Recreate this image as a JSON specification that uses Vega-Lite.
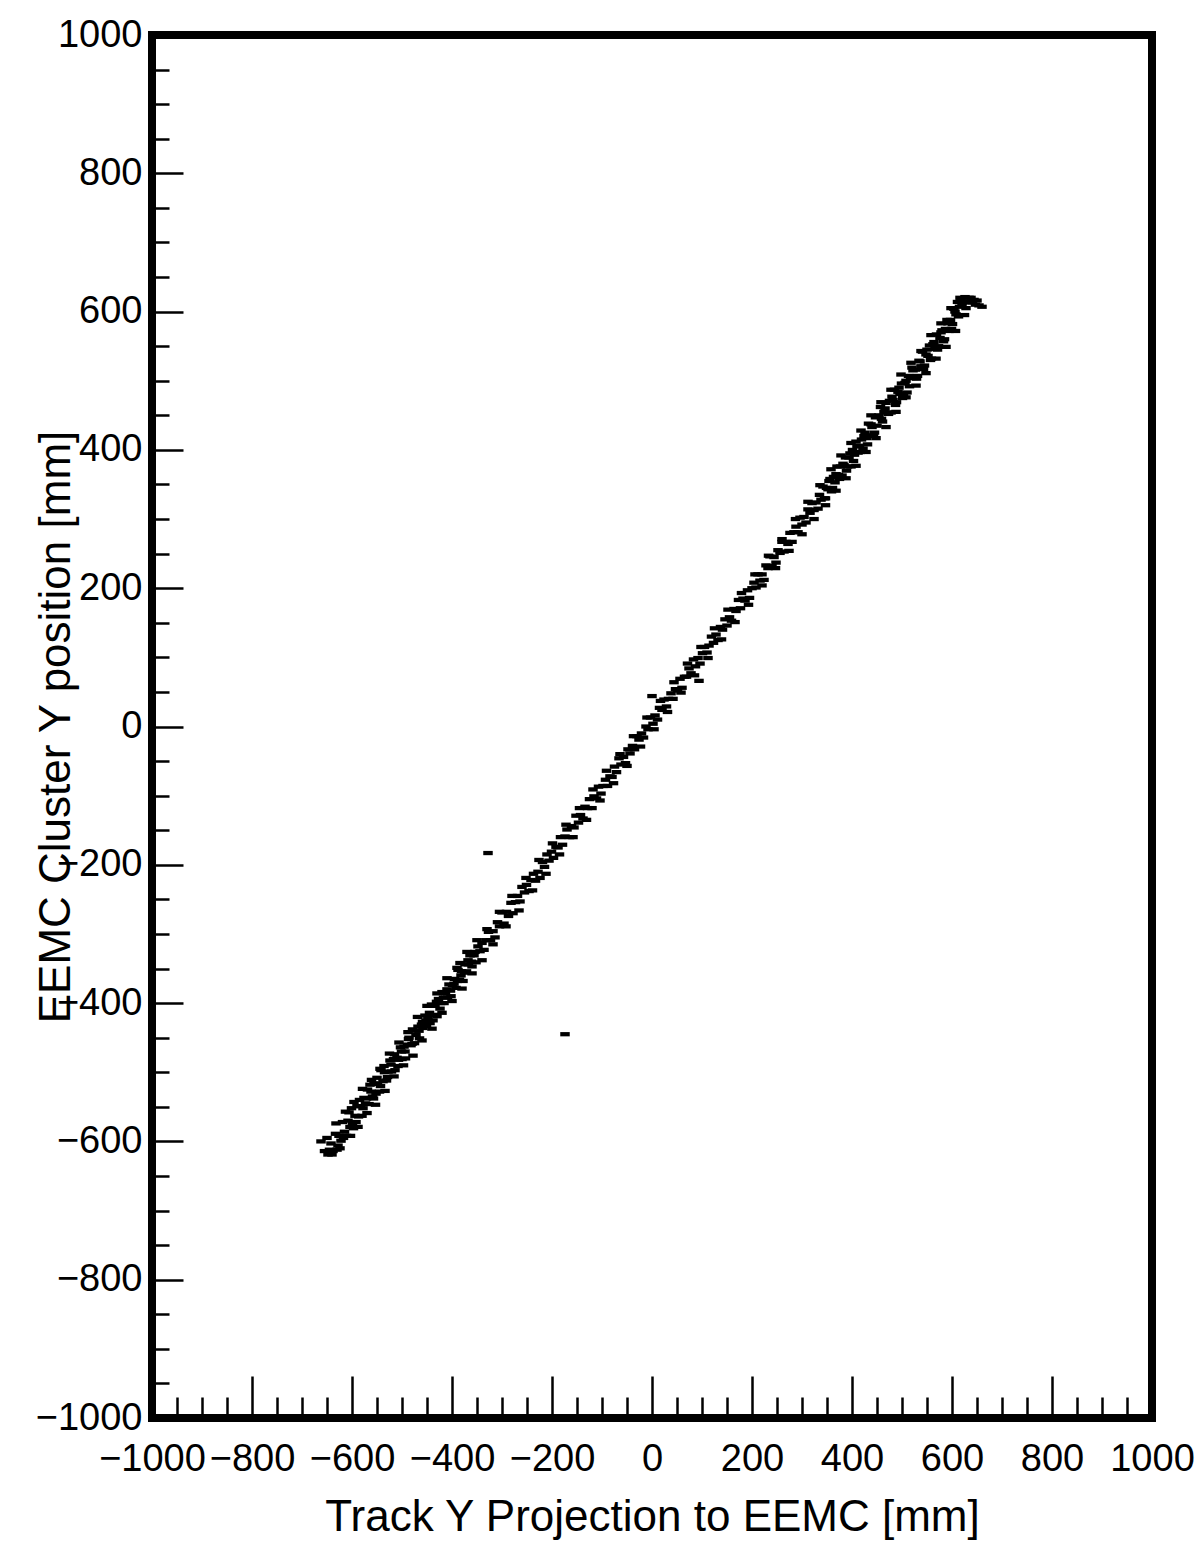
{
  "$schema": "https://vega.github.io/schema/vega-lite/v6.json",
  "width": 1000,
  "height": 1383,
  "autosize": {"type": "none"},
  "padding": {"left": 152, "top": 35, "right": 52, "bottom": 127},
  "background": "white",
  "config": {
    "view": {"stroke": "black", "strokeWidth": 8},
    "font": "Liberation Sans"
  },
  "layer": [
    {
      "data": {"values": [
        {"x":-662,"y":-600},{"x":-655,"y":-614},{"x":-648,"y":-619},{"x":-642,"y":-603},{"x":-638,"y":-614},{"x":-633,"y":-589},{"x":-630,"y":-612},{"x":-626,"y":-592},{"x":-622,"y":-599},{"x":-619,"y":-572},{"x":-615,"y":-586},{"x":-611,"y":-592},{"x":-608,"y":-570},{"x":-604,"y":-579},{"x":-601,"y":-552},{"x":-597,"y":-581},{"x":-594,"y":-563},{"x":-590,"y":-549},{"x":-587,"y":-564},{"x":-583,"y":-549},{"x":-580,"y":-563},{"x":-576,"y":-537},{"x":-573,"y":-545},{"x":-569,"y":-525},{"x":-566,"y":-546},{"x":-562,"y":-528},{"x":-559,"y":-535},
        {"x":-556,"y":-516},{"x":-552,"y":-531},{"x":-549,"y":-517},{"x":-545,"y":-528},{"x":-542,"y":-497},{"x":-538,"y":-513},{"x":-535,"y":-500},{"x":-531,"y":-512},{"x":-528,"y":-499},{"x":-524,"y":-483},{"x":-521,"y":-499},{"x":-517,"y":-481},{"x":-514,"y":-497},{"x":-510,"y":-479},{"x":-507,"y":-482},{"x":-503,"y":-464},{"x":-500,"y":-481},{"x":-496,"y":-463},{"x":-493,"y":-480},{"x":-489,"y":-460},{"x":-486,"y":-450},{"x":-482,"y":-461},{"x":-479,"y":-438},{"x":-475,"y":-458},{"x":-472,"y":-446},{"x":-468,"y":-434},{"x":-465,"y":-451},{"x":-461,"y":-431},{"x":-458,"y":-436},{"x":-454,"y":-418},{"x":-451,"y":-433},
        {"x":-448,"y":-420},{"x":-444,"y":-429},{"x":-441,"y":-402},{"x":-437,"y":-417},{"x":-434,"y":-404},{"x":-430,"y":-419},{"x":-427,"y":-394},{"x":-423,"y":-400},{"x":-420,"y":-384},{"x":-416,"y":-400},{"x":-413,"y":-386},{"x":-409,"y":-392},{"x":-406,"y":-373},{"x":-402,"y":-390},{"x":-399,"y":-374},{"x":-395,"y":-365},{"x":-392,"y":-378},{"x":-388,"y":-352},{"x":-385,"y":-366},{"x":-381,"y":-354},{"x":-378,"y":-368},{"x":-374,"y":-344},{"x":-371,"y":-354},{"x":-367,"y":-344},{"x":-364,"y":-331},{"x":-360,"y":-347},{"x":-356,"y":-331},{"x":-352,"y":-341},{"x":-348,"y":-318},{"x":-344,"y":-325},{"x":-340,"y":-313},{"x":-336,"y":-323},{"x":-332,"y":-309},
        {"x":-327,"y":-297},{"x":-323,"y":-309},{"x":-318,"y":-296},{"x":-314,"y":-305},{"x":-309,"y":-283},{"x":-305,"y":-289},{"x":-300,"y":-269},{"x":-296,"y":-285},{"x":-291,"y":-268},{"x":-287,"y":-274},{"x":-282,"y":-255},{"x":-278,"y":-270},{"x":-273,"y":-254},{"x":-269,"y":-245},{"x":-264,"y":-253},{"x":-260,"y":-232},{"x":-255,"y":-240},{"x":-251,"y":-229},{"x":-246,"y":-238},{"x":-242,"y":-222},{"x":-237,"y":-213},{"x":-233,"y":-223},{"x":-228,"y":-210},{"x":-224,"y":-219},{"x":-219,"y":-196},{"x":-215,"y":-203},{"x":-210,"y":-185},{"x":-206,"y":-194},{"x":-201,"y":-181},
        {"x":-197,"y":-190},{"x":-192,"y":-174},{"x":-188,"y":-175},{"x":-183,"y":-160},{"x":-179,"y":-171},{"x":-174,"y":-159},{"x":-170,"y":-149},{"x":-165,"y":-160},{"x":-161,"y":-144},{"x":-156,"y":-146},{"x":-152,"y":-129},{"x":-147,"y":-139},{"x":-143,"y":-128},{"x":-138,"y":-133},{"x":-134,"y":-116},{"x":-129,"y":-118},{"x":-125,"y":-105},{"x":-120,"y":-118},{"x":-116,"y":-101},{"x":-111,"y":-104},{"x":-107,"y":-87},{"x":-102,"y":-97},{"x":-98,"y":-86},{"x":-93,"y":-77},{"x":-89,"y":-86},{"x":-84,"y":-72},{"x":-80,"y":-73},{"x":-75,"y":-58},{"x":-71,"y":-66},{"x":-66,"y":-46},{"x":-62,"y":-55},{"x":-57,"y":-44},{"x":-53,"y":-53},{"x":-48,"y":-33},{"x":-44,"y":-39},{"x":-39,"y":-28},{"x":-35,"y":-33},{"x":-30,"y":-14},{"x":-26,"y":-19},{"x":-21,"y":-10},{"x":-17,"y":-16},{"x":-12,"y":0},{"x":-8,"y":-4},{"x":-3,"y":13},
        {"x":2,"y":4},{"x":6,"y":16},{"x":11,"y":10},{"x":15,"y":27},{"x":20,"y":24},{"x":24,"y":39},{"x":29,"y":29},{"x":33,"y":40},{"x":38,"y":48},{"x":42,"y":40},{"x":47,"y":54},{"x":51,"y":52},{"x":56,"y":69},{"x":60,"y":56},{"x":65,"y":72},{"x":69,"y":72},{"x":74,"y":84},{"x":78,"y":77},{"x":83,"y":97},{"x":87,"y":87},{"x":92,"y":99},{"x":96,"y":91},{"x":101,"y":106},{"x":105,"y":115},{"x":110,"y":107},{"x":114,"y":117},{"x":119,"y":130},{"x":123,"y":121},{"x":128,"y":133},{"x":132,"y":125},{"x":137,"y":144},{"x":141,"y":140},{"x":146,"y":155},{"x":150,"y":146},{"x":155,"y":158},{"x":159,"y":153},{"x":164,"y":170},{"x":168,"y":167},{"x":173,"y":183},{"x":177,"y":171},{"x":182,"y":185},{"x":186,"y":182},{"x":191,"y":197},{"x":195,"y":186},{"x":200,"y":200},
        {"x":204,"y":208},{"x":208,"y":201},{"x":212,"y":220},{"x":216,"y":211},{"x":220,"y":220},{"x":224,"y":212},{"x":228,"y":233},{"x":232,"y":229},{"x":236,"y":246},{"x":240,"y":232},{"x":244,"y":245},{"x":248,"y":237},{"x":252,"y":255},{"x":256,"y":251},{"x":260,"y":267},{"x":264,"y":253},{"x":268,"y":267},{"x":272,"y":264},{"x":276,"y":280},{"x":280,"y":267},{"x":284,"y":281},{"x":288,"y":289},{"x":292,"y":281},{"x":296,"y":302},{"x":300,"y":292},{"x":304,"y":303},{"x":308,"y":295},{"x":312,"y":314},{"x":316,"y":309},{"x":320,"y":323},{"x":324,"y":313},{"x":328,"y":324},{"x":332,"y":315},
        {"x":335,"y":335},{"x":338,"y":328},{"x":342,"y":347},{"x":345,"y":330},{"x":349,"y":345},{"x":352,"y":343},{"x":356,"y":358},{"x":359,"y":340},{"x":363,"y":361},{"x":366,"y":353},{"x":370,"y":376},{"x":373,"y":364},{"x":377,"y":376},{"x":380,"y":363},{"x":384,"y":378},{"x":387,"y":389},{"x":391,"y":376},{"x":394,"y":389},{"x":398,"y":376},{"x":401,"y":400},{"x":405,"y":393},{"x":408,"y":412},{"x":412,"y":396},{"x":415,"y":406},{"x":419,"y":415},{"x":422,"y":402},{"x":426,"y":425},{"x":429,"y":417},{"x":433,"y":438},{"x":436,"y":420},{"x":440,"y":433},{"x":443,"y":421},{"x":447,"y":447},{"x":450,"y":435},{"x":454,"y":450},{"x":457,"y":462},{"x":461,"y":441},
        {"x":464,"y":455},{"x":468,"y":468},{"x":471,"y":454},{"x":475,"y":471},{"x":478,"y":454},{"x":482,"y":472},{"x":485,"y":487},{"x":489,"y":469},{"x":492,"y":484},{"x":496,"y":481},{"x":499,"y":496},{"x":503,"y":481},{"x":506,"y":497},{"x":510,"y":483},{"x":513,"y":507},{"x":517,"y":504},{"x":520,"y":519},{"x":524,"y":504},{"x":527,"y":516},{"x":531,"y":507},{"x":534,"y":529},{"x":538,"y":521},{"x":541,"y":542},{"x":545,"y":522},{"x":548,"y":538},{"x":552,"y":536},{"x":555,"y":551},{"x":559,"y":532},{"x":562,"y":553},{"x":566,"y":546},{"x":569,"y":567},{"x":573,"y":550},{"x":576,"y":562},{"x":580,"y":573},{"x":583,"y":557},{"x":587,"y":575},{"x":590,"y":588},{"x":594,"y":572},{"x":597,"y":588},{"x":601,"y":582},{"x":604,"y":604},{"x":608,"y":596},{"x":611,"y":614},{"x":615,"y":607},{"x":618,"y":618},{"x":622,"y":613},{"x":626,"y":621},{"x":630,"y":614},{"x":635,"y":614},{"x":641,"y":613},{"x":647,"y":610},{"x":654,"y":609},{"x":660,"y":607},
        {"x":-328,"y":-183},{"x":-174,"y":-445},{"x":0,"y":44},{"x":94,"y":66},{"x":-384,"y":-342},
        {"x":-645,"y":-612},{"x":-628,"y":-606},{"x":-617,"y":-595},{"x":-606,"y":-558},{"x":-599,"y":-575},{"x":-592,"y":-572},{"x":-585,"y":-540},{"x":-578,"y":-552},{"x":-571,"y":-538},{"x":-564,"y":-518},{"x":-557,"y":-538},{"x":-550,"y":-508},{"x":-543,"y":-520},{"x":-536,"y":-491},{"x":-529,"y":-507},{"x":-522,"y":-489},{"x":-515,"y":-474},{"x":-508,"y":-491},{"x":-501,"y":-470},{"x":-494,"y":-470},{"x":-487,"y":-452},{"x":-480,"y":-459},{"x":-473,"y":-440},{"x":-466,"y":-440},{"x":-459,"y":-427},{"x":-452,"y":-425},{"x":-445,"y":-414},{"x":-438,"y":-425},{"x":-431,"y":-398},{"x":-424,"y":-408},{"x":-417,"y":-392},{"x":-410,"y":-380},{"x":-403,"y":-382},{"x":-396,"y":-372},{"x":-389,"y":-368},{"x":-382,"y":-360},{"x":-375,"y":-356},{"x":-368,"y":-338},{"x":-361,"y":-340},{"x":-354,"y":-326},
        {"x":347,"y":330},{"x":354,"y":355},{"x":361,"y":345},{"x":368,"y":365},{"x":375,"y":358},{"x":382,"y":380},{"x":389,"y":370},{"x":396,"y":395},{"x":403,"y":384},{"x":410,"y":405},{"x":417,"y":397},{"x":424,"y":420},{"x":431,"y":408},{"x":438,"y":437},{"x":445,"y":425},{"x":452,"y":448},{"x":459,"y":445},{"x":466,"y":460},{"x":473,"y":452},{"x":480,"y":477},{"x":487,"y":465},{"x":494,"y":490},{"x":501,"y":475},{"x":508,"y":500},{"x":515,"y":492},{"x":522,"y":515},{"x":529,"y":503},{"x":536,"y":528},{"x":543,"y":517},{"x":550,"y":545},{"x":557,"y":530},{"x":564,"y":556},{"x":571,"y":545},{"x":578,"y":570},{"x":585,"y":560},{"x":592,"y":583},{"x":599,"y":575},{"x":606,"y":600},{"x":613,"y":593},{"x":620,"y":610},{"x":628,"y":605},{"x":638,"y":620},{"x":650,"y":616},
        {"x":-650,"y":-595},{"x":-640,"y":-619},{"x":-632,"y":-574},{"x":-624,"y":-610},{"x":-613,"y":-557},{"x":-603,"y":-592},{"x":-596,"y":-543},{"x":-588,"y":-579},{"x":-579,"y":-524},{"x":-570,"y":-559},{"x":-561,"y":-511},{"x":-553,"y":-547},{"x":-544,"y":-495},{"x":-534,"y":-527},{"x":-525,"y":-473},{"x":-516,"y":-506},{"x":-506,"y":-457},{"x":-497,"y":-490},{"x":-488,"y":-442},{"x":-478,"y":-476},{"x":-469,"y":-420},{"x":-460,"y":-454},{"x":-450,"y":-404},{"x":-440,"y":-437},{"x":-430,"y":-386},{"x":-420,"y":-414},{"x":-410,"y":-364},{"x":-400,"y":-397},{"x":-390,"y":-349},{"x":-380,"y":-379},{"x":-370,"y":-326},{"x":-360,"y":-357},{"x":-350,"y":-309},{"x":-340,"y":-338},{"x":-330,"y":-293},{"x":-318,"y":-315},{"x":-305,"y":-268},{"x":-292,"y":-289},{"x":-280,"y":-245},{"x":-266,"y":-266},{"x":-252,"y":-219},{"x":-239,"y":-237},{"x":-226,"y":-193},{"x":-212,"y":-213},{"x":-199,"y":-169},{"x":-185,"y":-185},{"x":-172,"y":-142},{"x":-158,"y":-160},{"x":-145,"y":-118},{"x":-131,"y":-135},{"x":-118,"y":-91},{"x":-104,"y":-107},{"x":-91,"y":-64},{"x":-77,"y":-82},{"x":-64,"y":-40},{"x":-50,"y":-57},{"x":-37,"y":-14},{"x":-23,"y":-29},{"x":-10,"y":13},{"x":4,"y":-4},{"x":17,"y":37},{"x":31,"y":21},{"x":44,"y":64},{"x":58,"y":49},{"x":71,"y":91},{"x":85,"y":74},{"x":98,"y":115},{"x":112,"y":99},{"x":125,"y":142},{"x":139,"y":126},{"x":152,"y":169},{"x":166,"y":151},{"x":179,"y":193},{"x":193,"y":176},{"x":206,"y":220},{"x":220,"y":204},{"x":233,"y":247},{"x":247,"y":229},{"x":260,"y":271},{"x":274,"y":254},{"x":287,"y":300},{"x":300,"y":278},{"x":312,"y":325},{"x":324,"y":300},{"x":336,"y":349},{"x":347,"y":320},{"x":358,"y":372},{"x":368,"y":341},{"x":378,"y":392},{"x":388,"y":359},{"x":398,"y":410},{"x":408,"y":377},{"x":418,"y":428},{"x":428,"y":397},{"x":438,"y":450},{"x":448,"y":417},{"x":458,"y":469},{"x":468,"y":433},{"x":478,"y":487},{"x":488,"y":455},{"x":498,"y":509},{"x":508,"y":476},{"x":518,"y":526},{"x":528,"y":493},{"x":538,"y":543},{"x":548,"y":511},{"x":558,"y":566},{"x":568,"y":532},{"x":578,"y":583},{"x":588,"y":549},{"x":598,"y":605},{"x":607,"y":572},{"x":616,"y":620},{"x":625,"y":595},{"x":634,"y":620},{"x":644,"y":617}
      ]},
      "mark": {"type": "point", "shape": "M-1,-0.45L1,-0.45L1,0.45L-1,0.45Z", "filled": true, "size": 90, "color": "black", "opacity": 1, "strokeWidth": 0},
      "encoding": {
        "x": {
          "field": "x", "type": "quantitative",
          "scale": {"domain": [-1000, 1000], "nice": false, "zero": false},
          "axis": {
            "orient": "bottom",
            "values": [-1000, -800, -600, -400, -200, 0, 200, 400, 600, 800, 1000],
            "format": "d", "ticks": false, "domain": false, "grid": false,
            "labelFont": "Liberation Sans", "labelFontSize": 38, "labelColor": "black",
            "labelPadding": 22, "labelOverlap": false, "labelFlush": false, "labelBound": false,
            "title": "Track Y Projection to EEMC [mm]",
            "titleFont": "Liberation Sans", "titleFontSize": 44, "titleFontWeight": "normal", "titleColor": "black",
            "titleX": 500, "titleY": 112, "titleAlign": "center", "titleBaseline": "alphabetic"
          }
        },
        "y": {
          "field": "y", "type": "quantitative",
          "scale": {"domain": [-1000, 1000], "nice": false, "zero": false},
          "axis": {
            "orient": "left",
            "values": [-1000, -800, -600, -400, -200, 0, 200, 400, 600, 800, 1000],
            "format": "d", "ticks": false, "domain": false, "grid": false,
            "labelFont": "Liberation Sans", "labelFontSize": 38, "labelColor": "black",
            "labelPadding": 10, "labelOverlap": false, "labelFlush": false, "labelBound": false,
            "title": "EEMC Cluster Y position [mm]",
            "titleFont": "Liberation Sans", "titleFontSize": 44, "titleFontWeight": "normal", "titleColor": "black",
            "titleAngle": 270, "titleX": -83, "titleY": 691.5, "titleAlign": "center", "titleBaseline": "alphabetic"
          }
        }
      }
    },
    {
      "data": {"values": [{"x": 0, "y": 0}]},
      "mark": {"type": "point", "opacity": 0},
      "encoding": {
        "x": {
          "field": "x", "type": "quantitative",
          "axis": {
            "orient": "bottom",
            "values": [-1000, -800, -600, -400, -200, 0, 200, 400, 600, 800, 1000],
            "labels": false, "domain": false, "grid": false, "ticks": true,
            "tickSize": -42, "tickWidth": 2.5, "tickColor": "black", "title": null
          }
        },
        "y": {
          "field": "y", "type": "quantitative",
          "axis": {
            "orient": "left",
            "values": [-1000, -800, -600, -400, -200, 0, 200, 400, 600, 800, 1000],
            "labels": false, "domain": false, "grid": false, "ticks": true,
            "tickSize": -31, "tickWidth": 2.5, "tickColor": "black", "title": null
          }
        }
      }
    },
    {
      "data": {"values": [{"x": 0, "y": 0}]},
      "mark": {"type": "point", "opacity": 0},
      "encoding": {
        "x": {
          "field": "x", "type": "quantitative",
          "axis": {
            "orient": "bottom",
            "values": [-950, -900, -850, -750, -700, -650, -550, -500, -450, -350, -300, -250, -150, -100, -50, 50, 100, 150, 250, 300, 350, 450, 500, 550, 650, 700, 750, 850, 900, 950],
            "labels": false, "domain": false, "grid": false, "ticks": true,
            "tickSize": -21, "tickWidth": 2.5, "tickColor": "black", "title": null
          }
        },
        "y": {
          "field": "y", "type": "quantitative",
          "axis": {
            "orient": "left",
            "values": [-950, -900, -850, -750, -700, -650, -550, -500, -450, -350, -300, -250, -150, -100, -50, 50, 100, 150, 250, 300, 350, 450, 500, 550, 650, 700, 750, 850, 900, 950],
            "labels": false, "domain": false, "grid": false, "ticks": true,
            "tickSize": -17, "tickWidth": 2.5, "tickColor": "black", "title": null
          }
        }
      }
    }
  ],
  "resolve": {"axis": {"x": "independent", "y": "independent"}}
}
